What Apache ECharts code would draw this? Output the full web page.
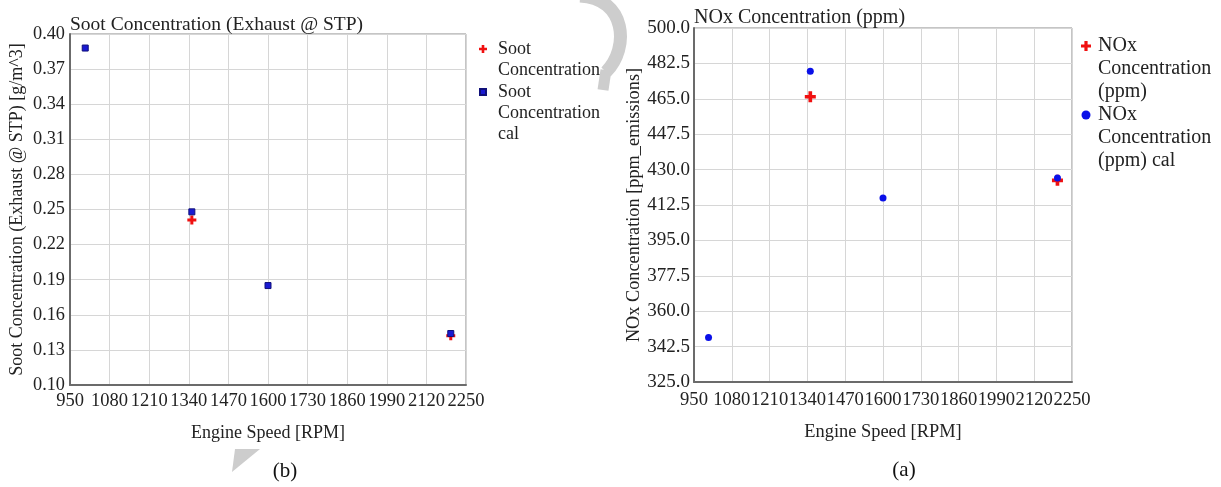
<!DOCTYPE html>
<html>
<head>
<meta charset="utf-8">
<title>Soot and NOx concentration vs engine speed</title>
<script src="https://cdn.jsdelivr.net/npm/echarts@6/dist/echarts.min.js"></script>
<style>
  html, body { margin: 0; padding: 0; background: #fff; }
  #chart { width: 1221px; height: 487px; }
</style>
</head>
<body>
<div id="chart"></div>
<script>
// Engine speeds of the measured operating points [RPM]
const sootMeasuredRpm = [1350, 2200];
const sootMeasured = [0.241, 0.142];          // g/m^3, exhaust @ STP
const sootCalRpm = [1000, 1350, 1600, 2200];
const sootCal = [0.388, 0.248, 0.185, 0.144];

const noxMeasuredRpm = [1350, 2200];
const noxMeasured = [466.0, 424.7];           // ppm
const noxCalRpm = [1000, 1350, 1600, 2200];
const noxCal = [347.0, 478.6, 416.0, 425.8];

// Axis tick labels
const rpmTicks = [950, 1080, 1210, 1340, 1470, 1600, 1730, 1860, 1990, 2120, 2250];
const sootTicks = [0.10, 0.13, 0.16, 0.19, 0.22, 0.25, 0.28, 0.31, 0.34, 0.37, 0.40];
const noxTicks = [325.0, 342.5, 360.0, 377.5, 395.0, 412.5, 430.0, 447.5, 465.0, 482.5, 500.0];

const FONT = 'Liberation Serif';
const CROSS = 'path://M3,0H6V3H9V6H6V9H3V6H0V3H3Z';
const RED = '#f01010';
const SQUARE_BLUE = '#1a1ad2';

// Legend icons: the glyph sits level with the first text line; the two
// zero-length sub-paths only fix the icon box to itemWidth x itemHeight.
function legendIcon(glyph, w, h) {
  return 'path://' + glyph + 'M0,0L0,0M' + w + ',' + h + 'L' + w + ',' + h;
}
const crossAt = (cx, cy, s, t) => {
  const a = cx - t / 2, b = cx + t / 2, c = cy - t / 2, d = cy + t / 2;
  return 'M' + a + ',' + (cy - s / 2) + 'H' + b + 'V' + c + 'H' + (cx + s / 2) + 'V' + d +
         'H' + b + 'V' + (cy + s / 2) + 'H' + a + 'V' + d + 'H' + (cx - s / 2) + 'V' + c + 'H' + a + 'Z';
};
const squareAt = (cx, cy, s) =>
  'M' + (cx - s / 2) + ',' + (cy - s / 2) + 'H' + (cx + s / 2) + 'V' + (cy + s / 2) + 'H' + (cx - s / 2) + 'Z';
const circleAt = (cx, cy, r) =>
  'M' + (cx - r) + ',' + cy + 'A' + r + ',' + r + ',0,1,1,' + (cx + r) + ',' + cy +
  'A' + r + ',' + r + ',0,1,1,' + (cx - r) + ',' + cy + 'Z';

const pairs = (xs, ys) => xs.map((x, i) => [x, ys[i]]);

function tickAxis(ticks, extra) {
  const step = +(ticks[1] - ticks[0]).toFixed(6);
  return Object.assign({
    type: 'value',
    min: ticks[0],
    max: ticks[ticks.length - 1],
    interval: step,
    axisTick: { show: false },
    axisLine: { show: true, lineStyle: { color: '#6b6b6b', width: 2 } },
    splitLine: { show: true, lineStyle: { color: '#d6d6d6', width: 1 } },
    nameLocation: 'middle',
    nameTextStyle: { fontFamily: FONT, fontSize: 18, color: '#222' }
  }, extra);
}

const LH_L = 21, LH_R = 23;

const chart = echarts.init(document.getElementById('chart'), null, { renderer: 'canvas' });

chart.setOption({
  animation: false,
  backgroundColor: '#fff',
  textStyle: { fontFamily: FONT },
  title: [
    { text: 'Soot Concentration (Exhaust @ STP)', left: 70, top: 15, padding: 0,
      textStyle: { fontFamily: FONT, fontSize: 19.5, fontWeight: 'normal', color: '#222' } },
    { text: 'NOx Concentration (ppm)', left: 694, top: 8, padding: 0,
      textStyle: { fontFamily: FONT, fontSize: 20, fontWeight: 'normal', color: '#222' } },
    { text: '(b)', left: 285, top: 461, textAlign: 'center', padding: 0,
      textStyle: { fontFamily: FONT, fontSize: 21, fontWeight: 'normal', color: '#111' } },
    { text: '(a)', left: 904, top: 460, textAlign: 'center', padding: 0,
      textStyle: { fontFamily: FONT, fontSize: 21, fontWeight: 'normal', color: '#111' } }
  ],
  legend: [
    {
      orient: 'vertical', left: 478, top: 49 - LH_L, padding: 0, itemGap: -LH_L / 2,
      itemWidth: 14, itemHeight: LH_L * 3, symbolKeepAspect: false,
      textStyle: { fontFamily: FONT, fontSize: 18, lineHeight: LH_L, color: '#222',
                   width: 112, overflow: 'break' },
      data: [
        { name: 'Soot Concentration',
          icon: legendIcon(crossAt(4, LH_L, 8, 2.6), 14, LH_L * 3) },
        { name: 'Soot Concentration cal',
          icon: legendIcon(squareAt(4, LH_L / 2, 6), 14, LH_L * 3) }
      ]
    },
    {
      orient: 'vertical', left: 1081, top: 46 - LH_R / 2, padding: 0, itemGap: 0,
      itemWidth: 12, itemHeight: LH_R * 3, symbolKeepAspect: false,
      textStyle: { fontFamily: FONT, fontSize: 20, lineHeight: LH_R, color: '#222',
                   width: 125, overflow: 'break' },
      data: [
        { name: 'NOx Concentration (ppm)',
          icon: legendIcon(crossAt(5, LH_R / 2, 10, 3.2), 12, LH_R * 3) },
        { name: 'NOx Concentration (ppm) cal',
          icon: legendIcon(circleAt(5, LH_R / 2, 4.5), 12, LH_R * 3) }
      ]
    }
  ],
  grid: [
    { left: 70, top: 34, width: 396, height: 351, show: true, borderColor: '#8a8a8a', borderWidth: 1 },
    { left: 694, top: 28, width: 378, height: 354, show: true, borderColor: '#8a8a8a', borderWidth: 1 }
  ],
  xAxis: [
    tickAxis(rpmTicks, {
      gridIndex: 0, name: 'Engine Speed [RPM]', nameGap: 39,
      axisLabel: { fontFamily: FONT, fontSize: 18.5, color: '#222', margin: 7, hideOverlap: false,
                   showMinLabel: true, showMaxLabel: true, formatter: v => String(v) }
    }),
    tickAxis(rpmTicks, {
      gridIndex: 1, name: 'Engine Speed [RPM]', nameGap: 41,
      nameTextStyle: { fontFamily: FONT, fontSize: 18.4, color: '#222' },
      axisLabel: { fontFamily: FONT, fontSize: 18.6, color: '#222', margin: 9, hideOverlap: false,
                   formatter: v => String(v) }
    })
  ],
  yAxis: [
    tickAxis(sootTicks, {
      gridIndex: 0, name: 'Soot Concentration (Exhaust @ STP) [g/m^3]', nameGap: 44,
      axisLabel: { fontFamily: FONT, fontSize: 18.3, color: '#222', margin: 5,
                   showMinLabel: true, showMaxLabel: true, formatter: v => v.toFixed(2) }
    }),
    tickAxis(noxTicks, {
      gridIndex: 1, name: 'NOx Concentration [ppm_emissions]', nameGap: 49,
      nameTextStyle: { fontFamily: FONT, fontSize: 18.3, color: '#222' },
      axisLabel: { fontFamily: FONT, fontSize: 19, color: '#222', margin: 4,
                   showMinLabel: true, showMaxLabel: true, formatter: v => v.toFixed(1) }
    })
  ],
  series: [
    { name: 'Soot Concentration', type: 'scatter', xAxisIndex: 0, yAxisIndex: 0,
      symbol: CROSS, symbolSize: 9, itemStyle: { color: RED, opacity: 1 },
      data: pairs(sootMeasuredRpm, sootMeasured) },
    { name: 'Soot Concentration cal', type: 'scatter', xAxisIndex: 0, yAxisIndex: 0,
      symbol: 'rect', symbolSize: 6,
      itemStyle: { color: SQUARE_BLUE, borderColor: '#10107a', borderWidth: 1, opacity: 1 },
      data: pairs(sootCalRpm, sootCal) },
    { name: 'NOx Concentration (ppm)', type: 'scatter', xAxisIndex: 1, yAxisIndex: 1,
      symbol: CROSS, symbolSize: 11, itemStyle: { color: RED, opacity: 1 },
      data: pairs(noxMeasuredRpm, noxMeasured) },
    { name: 'NOx Concentration (ppm) cal', type: 'scatter', xAxisIndex: 1, yAxisIndex: 1,
      symbol: 'circle', symbolSize: 7, itemStyle: { color: '#0a10e8', opacity: 1 },
      data: pairs(noxCalRpm, noxCal) }
  ],
  graphic: [
    // faint grey page marks between and below the panels
    { type: 'bezierCurve', silent: true, z: -1,
      shape: { x1: 580, y1: -4, cpx1: 626, cpy1: -2, cpx2: 630, cpy2: 48, x2: 606, y2: 72 },
      style: { stroke: '#cdcdcd', lineWidth: 13, fill: null } },
    { type: 'line', silent: true, z: -1,
      shape: { x1: 606, y1: 70, x2: 603, y2: 90 },
      style: { stroke: '#cdcdcd', lineWidth: 11 } },
    { type: 'polygon', silent: true, z: -1,
      shape: { points: [[235, 449], [260, 449], [232, 472]] },
      style: { fill: '#cdcdcd' } }
  ]
});
</script>
</body>
</html>
